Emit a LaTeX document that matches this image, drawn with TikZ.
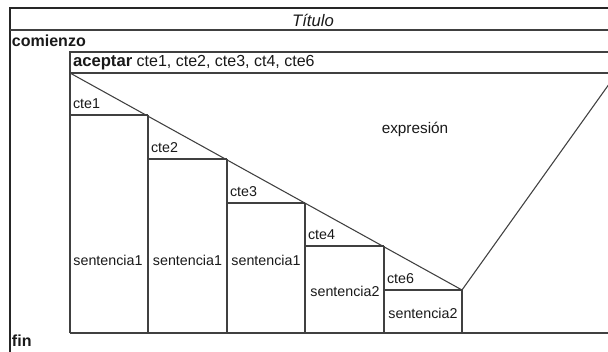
\documentclass[tikz,border=0pt]{standalone}
\usepackage{fontspec}
\setmainfont{Liberation Sans}
\begin{document}
\begin{tikzpicture}[
    x=0.75pt, y=-0.75pt,
    % Textos comuns
    txt/.style={
        inner sep=0pt, outer sep=0pt, text=black!90,
        font=\fontsize{10.7}{13}\selectfont
    },
    % Palavras reservadas
    txtkw/.style={
        txt, font=\fontsize{12}{14}\selectfont\bfseries
    },
    linha/.style={draw=black!75, line width=0.8pt},
    lborda/.style={draw=black!85, line width=0.9pt}
]

\useasboundingbox (0,0) rectangle (608,351);
\clip (0,0) rectangle (608,351);

% ---- MARCO EXTERNO ----
\coordinate (ext_no) at (10,8);
\coordinate (ext_ne) at (620,8);
\coordinate (ext_so) at (10,360);
\coordinate (tit_o)  at (10,30);
\coordinate (tit_e)  at (620,30);

\draw[lborda] (ext_so) -- (ext_no) -- (ext_ne);
\draw[linha]  (tit_o) -- (tit_e);

\node[txt, font=\fontsize{12.5}{14}\selectfont\itshape] (titulo) at (313,20) {Título};
\node[txtkw, anchor=west] (comienzo) at (12,41) {comienzo};
\node[txtkw, anchor=west] (fin)      at (12,341) {fin};

% ---- BLOCO ACEPTAR ----
\coordinate (ac_no) at (70,52);
\coordinate (ac_ne) at (620,52);
\coordinate (ac_so) at (70,333);
\coordinate (ac_se) at (620,333);
\coordinate (p0)    at (70,73);
\coordinate (p0e)   at (620,73);

\draw[linha] (ac_so) -- (ac_no) -- (ac_ne);
\draw[linha] (p0) -- (p0e);
\draw[linha] (ac_so) -- (ac_se);

\node[txt, anchor=west, font=\fontsize{12}{14}\selectfont] (aceptar) at (73,63)
    {\textbf{\fontsize{12.5}{14}\selectfont aceptar} cte1, cte2, cte3, ct4, cte6};

% ---- DIAGONAIS DA EXPRESSÃO ----
\coordinate (p1) at (148,115);
\coordinate (p2) at (227,159);
\coordinate (p3) at (305,203);
\coordinate (p4) at (384,246);
\coordinate (p5) at (462,290);
\coordinate (v_ne) at (617,73);

\draw[linha] (p0) -- (p5) -- (v_ne);

\node[txt, font=\fontsize{11.5}{13}\selectfont] (expresion) at (415,129) {expresión};

% ---- CASOS ----
\draw[linha] (p0) -- (p0 |- ac_so);
\draw[linha] (p1) -- (p1 |- ac_so);
\draw[linha] (p2) -- (p2 |- ac_so);
\draw[linha] (p3) -- (p3 |- ac_so);
\draw[linha] (p4) -- (p4 |- ac_so);
\draw[linha] (p5) -- (p5 |- ac_so);

\draw[linha] (p0 |- p1) -- (p1);
\draw[linha] (p1 |- p2) -- (p2);
\draw[linha] (p2 |- p3) -- (p3);
\draw[linha] (p3 |- p4) -- (p4);
\draw[linha] (p4 |- p5) -- (p5);

\node[txt, anchor=west] (c1) at (73,104) {cte1};
\node[txt, anchor=west] (c2) at (151,148) {cte2};
\node[txt, anchor=west] (c3) at (230,192) {cte3};
\node[txt, anchor=west] (c4) at (308,235) {cte4};
\node[txt, anchor=west] (c6) at (387,279) {cte6};

\node[txt] (s1) at (108,260)   {sentencia1};
\node[txt] (s2) at (187.5,260) {sentencia1};
\node[txt] (s3) at (266,260)   {sentencia1};
\node[txt] (s4) at (345,291)   {sentencia2};
\node[txt] (s5) at (423,313)   {sentencia2};

\end{tikzpicture}
\end{document}
